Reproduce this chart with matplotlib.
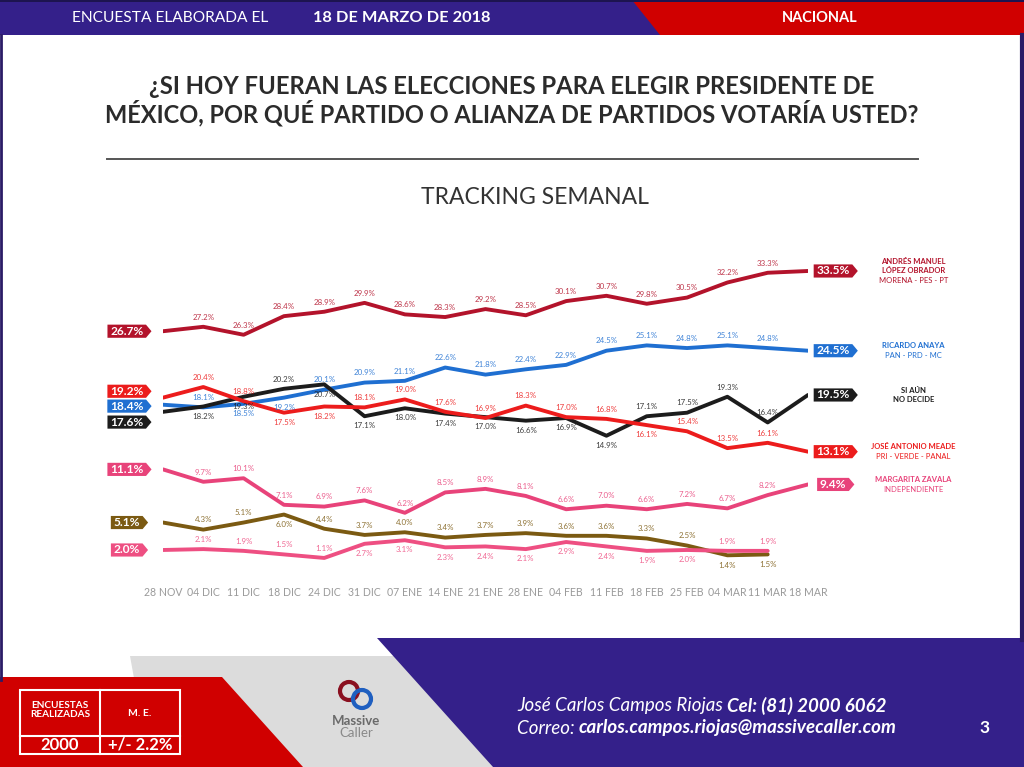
import matplotlib
matplotlib.use("Agg")
import matplotlib.pyplot as plt
from matplotlib.path import Path
from matplotlib.patches import Polygon, Rectangle, Circle

plt.rcParams['font.family'] = ['Lato', 'DejaVu Sans']

# ----------------------------
# Datos (tracking semanal, % de intención de voto)
fechas = ["28 NOV", "04 DIC", "11 DIC", "18 DIC", "24 DIC", "31 DIC", "07 ENE", "14 ENE",
          "21 ENE", "28 ENE", "04 FEB", "11 FEB", "18 FEB", "25 FEB", "04 MAR", "11 MAR", "18 MAR"]

amlo = [26.7, 27.2, 26.3, 28.4, 28.9, 29.9, 28.6, 28.3, 29.2, 28.5, 30.1, 30.7, 29.8, 30.5, 32.2, 33.3, 33.5]
anaya = [18.4, 18.1, 18.5, 19.2, 20.1, 20.9, 21.1, 22.6, 21.8, 22.4, 22.9, 24.5, 25.1, 24.8, 25.1, 24.8, 24.5]
no_decide = [17.6, 18.2, 19.3, 20.2, 20.7, 17.1, 18.0, 17.4, 17.0, 16.6, 16.9, 14.9, 17.1, 17.5, 19.3, 16.4, 19.5]
meade = [19.2, 20.4, 18.8, 17.5, 18.2, 18.1, 19.0, 17.6, 16.9, 18.3, 17.0, 16.8, 16.1, 15.4, 13.5, 14.1, 13.1]
zavala = [11.1, 9.7, 10.1, 7.1, 6.9, 7.6, 6.2, 8.5, 8.9, 8.1, 6.6, 7.0, 6.6, 7.2, 6.7, 8.2, 9.4]
cafe = [5.1, 4.3, 5.1, 6.0, 4.4, 3.7, 4.0, 3.4, 3.7, 3.9, 3.6, 3.6, 3.3, 2.5, 1.4, 1.5]
rosa = [2.0, 2.1, 1.9, 1.5, 1.1, 2.7, 3.1, 2.3, 2.4, 2.1, 2.9, 2.4, 1.9, 2.0, 1.9, 1.9]

# etiqueta impresa en la lámina que no coincide con el trazo
meade_texto_fix = {15: "16.1%"}

# posición de etiquetas: 1 arriba, -1 abajo
pos_amlo = [1] * 17
pos_anaya = [1, 1, -1, -1, 1, 1, 1, 1, 1, 1, 1, 1, 1, 1, 1, 1, 1]
pos_nd = [1, -1, -1, 1, -1, -1, -1, -1, -1, -1, -1, -1, 1, 1, 1, 1, 1]
pos_meade = [1, 1, 1, -1, -1, 1, 1, 1, 1, 1, 1, 1, -1, 1, 1, 1, 1]
pos_zavala = [1] * 17
pos_cafe = [1, 1, 1, -1, 1, 1, 1, 1, 1, 1, 1, 1, 1, 1, -1, -1]
pos_rosa = [1, 1, 1, 1, 1, -1, -1, -1, -1, -1, -1, -1, -1, -1, 1, 1]

# colores
NAVY = "#34208a"
RED_HDR = "#d00000"
C_AMLO = "#b3132b"
C_ANAYA = "#1f6fd1"
C_ND = "#1c1c1c"
C_MEADE = "#ec1c1c"
C_ZAVALA = "#e8437a"
C_CAFE = "#7b5a12"
C_ROSA = "#ee4f82"

# (valores, color, posiciones, caja final, nombre, desfase caja inicial en pts)
series = [
    (amlo, C_AMLO, pos_amlo, True, ["ANDRÉS MANUEL", "LÓPEZ OBRADOR", "MORENA - PES - PT"], 0),
    (anaya, C_ANAYA, pos_anaya, True, ["RICARDO ANAYA", "PAN - PRD - MC"], -1.0),
    (no_decide, C_ND, pos_nd, True, ["SI AÚN", "NO DECIDE"], -7.4),
    (meade, C_MEADE, pos_meade, True, ["JOSÉ ANTONIO MEADE", "PRI - VERDE - PANAL"], 4.6),
    (zavala, C_ZAVALA, pos_zavala, True, ["MARGARITA ZAVALA", "INDEPENDIENTE"], 0),
    (cafe, C_CAFE, pos_cafe, False, None, 0),
    (rosa, C_ROSA, pos_rosa, False, None, 0),
]


def pentagono(x0, y0, width, height, mutation_size):
    padx = 0.22 * mutation_size
    pady = 0.09 * mutation_size
    x0, y0 = x0 - padx, y0 - pady
    width, height = width + 2 * padx, height + 2 * pady
    tip = height * 0.42
    return Path([(x0, y0), (x0 + width, y0), (x0 + width + tip, y0 + height / 2),
                 (x0 + width, y0 + height), (x0, y0 + height), (x0, y0)], closed=True)


W, H = 1024, 767
fig = plt.figure(figsize=(W / 100, H / 100), dpi=100)

# ---------------- fondo / decoración en pixeles
bg = fig.add_axes([0, 0, 1, 1])
bg.set_xlim(0, W)
bg.set_ylim(H, 0)
bg.axis("off")

# encabezado
bg.add_patch(Rectangle((0, 0), W, 35, color=NAVY, lw=0))
bg.add_patch(Polygon([(632, 0), (W, 0), (W, 35), (660, 35)], closed=True, color=RED_HDR, lw=0))
bg.add_patch(Rectangle((0, 0), W, 2, color="#1d1450", lw=0))
bg.text(72, 18, "ENCUESTA ELABORADA EL", color="white", fontsize=11.2, va="center", ha="left")
bg.text(313, 18, "18 DE MARZO DE 2018", color="white", fontsize=11.8, fontweight="bold", va="center", ha="left")
bg.text(820, 18, "NACIONAL", color="white", fontsize=10.5, fontweight="bold", va="center", ha="center")

# bordes laterales
bg.plot([1, 1], [35, 680], color="#2a1b66", lw=2)
bg.plot([1022, 1022], [35, 640], color="#2a1b66", lw=3)

# título
bg.text(512, 86, "¿SI HOY FUERAN LAS ELECCIONES PARA ELEGIR PRESIDENTE DE", color="#2b2b2b",
        fontsize=17.2, fontweight="bold", ha="center", va="center")
bg.text(512, 113, "MÉXICO, POR QUÉ PARTIDO O ALIANZA DE PARTIDOS VOTARÍA USTED?", color="#2b2b2b",
        fontsize=17, fontweight="bold", ha="center", va="center")
bg.plot([107, 918], [159, 159], color="#555555", lw=1.4)
bg.text(535, 198, "TRACKING SEMANAL", color="#333333", fontsize=16.5, ha="center", va="center")

# pie de página
bg.add_patch(Polygon([(130, 656), (400, 656), (493, 767), (150, 767)], closed=True, color="#dcdcdc", lw=0))
bg.add_patch(Polygon([(0, 677), (222, 677), (303, 767), (0, 767)], closed=True, color=RED_HDR, lw=0))
bg.add_patch(Polygon([(377, 638), (W, 638), (W, 767), (493, 767)], closed=True, color=NAVY, lw=0))

# tabla
bg.add_patch(Rectangle((20, 690), 160, 64, fill=False, ec="white", lw=1.5))
bg.plot([100, 100], [690, 754], color="white", lw=1.5)
bg.plot([20, 180], [736, 736], color="white", lw=1.5)
bg.text(60, 710, "ENCUESTAS\nREALIZADAS", color="white", fontsize=7.2, fontweight="bold",
        ha="center", va="center", linespacing=1.1)
bg.text(140, 714, "M. E.", color="white", fontsize=7.5, fontweight="bold", ha="center", va="center")
bg.text(60, 745, "2000", color="white", fontsize=12, fontweight="bold", ha="center", va="center")
bg.text(140, 745, "+/- 2.2%", color="white", fontsize=12, fontweight="bold", ha="center", va="center")

# logo
bg.add_patch(Circle((349, 691), 9, fill=False, ec="#8a1020", lw=3))
bg.add_patch(Circle((362, 699), 9, fill=False, ec="#1f5fc0", lw=3))
bg.text(356, 721, "Massive", color="#6a6a6a", fontsize=9.5, fontweight="bold", ha="center", va="center")
bg.text(356, 733, "Caller", color="#8a8a8a", fontsize=9.5, ha="center", va="center")

# contacto
t1 = bg.text(517, 706, "José Carlos Campos Riojas ", color="white", fontsize=13.5, style="italic", va="center")
bg.annotate("Cel: (81) 2000 6062", xycoords=t1, xy=(1, 0.5), va="center", ha="left",
            color="white", fontsize=13.5, style="italic", fontweight="bold")
t2 = bg.text(517, 728, "Correo: ", color="white", fontsize=13.5, style="italic", va="center")
bg.annotate("carlos.campos.riojas@massivecaller.com", xycoords=t2, xy=(1, 0.5), va="center", ha="left",
            color="white", fontsize=13.5, style="italic", fontweight="bold")
bg.text(985, 728, "3", color="white", fontsize=12.5, fontweight="bold", ha="center", va="center")

# ---------------- gráfica
x0, x1 = 163, 808
y_cero, y_cuarenta = 567.7, 567.7 - 40 * 8.857
ax = fig.add_axes([x0 / W, 1 - y_cero / H, (x1 - x0) / W, (y_cero - y_cuarenta) / H])
ax.patch.set_alpha(0)
ax.set_xlim(0, len(fechas) - 1)
ax.set_ylim(0, 40)
for s in ax.spines.values():
    s.set_visible(False)
ax.set_yticks([])
ax.set_xticks(range(len(fechas)))
ax.set_xticklabels(fechas, color="#9a9a9a", fontsize=7.6)
ax.tick_params(axis="x", length=0, pad=14)

for vals, color, pos, final, nombre, desfase in series:
    xs = list(range(len(vals)))
    ax.plot(xs, vals, color=color, lw=2.8, solid_joinstyle="round", solid_capstyle="round", zorder=3)
    ultimo = len(vals) - 1 if final else len(vals)
    for i in range(1, ultimo):
        txt = f"{vals[i]:.1f}%"
        if vals is meade and i in meade_texto_fix:
            txt = meade_texto_fix[i]
        ax.annotate(txt, (xs[i], vals[i]), xytext=(0, 7 * pos[i]), textcoords="offset points",
                    ha="center", va="center", fontsize=5.7, color=color, alpha=0.85, zorder=4)
    # caja inicial
    ax.annotate(f"{vals[0]:.1f}%", (-0.9, vals[0]), xytext=(0, desfase), textcoords="offset points",
                color="white", fontsize=8.6, fontweight="bold", ha="center", va="center",
                annotation_clip=False, zorder=5,
                bbox=dict(boxstyle=pentagono, fc=color, ec="none"))
    if final:
        ax.text(16.62, vals[-1], f"{vals[-1]:.1f}%", color="white", fontsize=8.6, fontweight="bold",
                ha="center", va="center", clip_on=False, zorder=5,
                bbox=dict(boxstyle=pentagono, fc=color, ec="none"))
        n = len(nombre)
        for j, linea in enumerate(nombre):
            peso = "bold" if (j < n - 1 or color == C_ND) else "normal"
            dy = (j - (n - 1) / 2) * 9.5
            ax.annotate(linea, (18.62, vals[-1]), xytext=(0, -dy * 0.72), textcoords="offset points",
                        ha="center", va="center", fontsize=5.5, fontweight=peso, color=color,
                        annotation_clip=False)

fig.savefig("out.png", dpi=100)
